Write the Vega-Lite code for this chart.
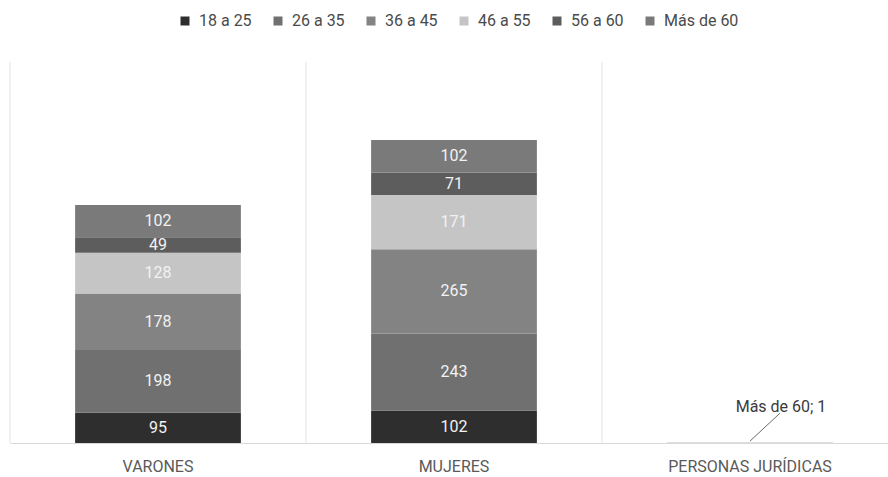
{
  "$schema": "https://vega.github.io/schema/vega-lite/v6.json",
  "width": 878,
  "height": 381,
  "autosize": {"type": "none"},
  "padding": {"left": 10, "right": 0, "top": 62, "bottom": 34},
  "background": "white",
  "config": {"view": {"stroke": null}, "font": "Roboto"},
  "data": {
    "values": [
      {"cat": "VARONES", "grupo": "18 a 25", "value": 95, "ord": 1},
      {"cat": "VARONES", "grupo": "26 a 35", "value": 198, "ord": 2},
      {"cat": "VARONES", "grupo": "36 a 45", "value": 178, "ord": 3},
      {"cat": "VARONES", "grupo": "46 a 55", "value": 128, "ord": 4},
      {"cat": "VARONES", "grupo": "56 a 60", "value": 49, "ord": 5},
      {"cat": "VARONES", "grupo": "Más de 60", "value": 102, "ord": 6},
      {"cat": "MUJERES", "grupo": "18 a 25", "value": 102, "ord": 1},
      {"cat": "MUJERES", "grupo": "26 a 35", "value": 243, "ord": 2},
      {"cat": "MUJERES", "grupo": "36 a 45", "value": 265, "ord": 3},
      {"cat": "MUJERES", "grupo": "46 a 55", "value": 171, "ord": 4},
      {"cat": "MUJERES", "grupo": "56 a 60", "value": 71, "ord": 5},
      {"cat": "MUJERES", "grupo": "Más de 60", "value": 102, "ord": 6},
      {"cat": "PERSONAS JURÍDICAS", "grupo": "Más de 60", "value": 1, "ord": 6}
    ]
  },
  "layer": [
    {
      "data": {"values": [{"cat": "VARONES"}, {"cat": "MUJERES"}, {"cat": "PERSONAS JURÍDICAS"}]},
      "mark": {"type": "rule", "color": "#e3e3e3", "strokeWidth": 1},
      "encoding": {
        "x": {"field": "cat", "type": "nominal", "bandPosition": 0, "sort": ["VARONES", "MUJERES", "PERSONAS JURÍDICAS"]}
      }
    },
    {
      "mark": {"type": "bar", "width": {"band": 0.56}},
      "encoding": {
        "x": {
          "field": "cat", "type": "nominal",
          "sort": ["VARONES", "MUJERES", "PERSONAS JURÍDICAS"],
          "scale": {"range": [0, 888], "paddingInner": 0, "paddingOuter": 0},
          "axis": {"title": null, "labelAngle": 0, "labelAlign": "center", "labelBaseline": "middle", "ticks": false, "grid": false, "domainColor": "#d9d9d9", "labelFontSize": 16, "labelColor": "#5a5a5a", "labelPadding": 23}
        },
        "y": {"field": "value", "type": "quantitative", "stack": "zero", "scale": {"domain": [0, 1200]}, "axis": null},
        "color": {
          "field": "grupo", "type": "nominal",
          "scale": {
            "domain": ["18 a 25", "26 a 35", "36 a 45", "46 a 55", "56 a 60", "Más de 60"],
            "range": ["#2e2e2e", "#707070", "#838383", "#c5c5c5", "#5d5d5d", "#7a7a7a"]
          },
          "legend": {
            "title": null, "orient": "none", "direction": "horizontal",
            "legendX": 167, "legendY": -49,
            "symbolType": "square", "symbolSize": 81, "symbolStrokeWidth": 0,
            "labelFontSize": 16, "labelColor": "#4a4a4a", "labelOffset": 6,
            "columnPadding": 18
          }
        },
        "order": {"field": "ord", "type": "quantitative"}
      }
    },
    {
      "transform": [{"filter": "datum.value > 5"}],
      "mark": {"type": "text", "color": "#f2f2f2", "fontSize": 16},
      "encoding": {
        "x": {"field": "cat", "type": "nominal", "sort": ["VARONES", "MUJERES", "PERSONAS JURÍDICAS"]},
        "y": {"field": "value", "type": "quantitative", "stack": "zero", "bandPosition": 0.5},
        "detail": {"field": "grupo"},
        "order": {"field": "ord", "type": "quantitative"},
        "text": {"field": "value", "type": "quantitative"}
      }
    },
    {
      "transform": [{"filter": "datum.cat == 'PERSONAS JURÍDICAS'"}],
      "mark": {"type": "rule", "color": "#6a6a6a", "strokeWidth": 1, "x2Offset": 30},
      "encoding": {
        "x": {"field": "cat", "type": "nominal", "sort": ["VARONES", "MUJERES", "PERSONAS JURÍDICAS"]},
        "x2": {"field": "cat"},
        "y": {"datum": 6, "type": "quantitative"},
        "y2": {"datum": 94}
      }
    },
    {
      "transform": [{"filter": "datum.cat == 'PERSONAS JURÍDICAS'"}],
      "mark": {"type": "text", "color": "#3a3a3a", "fontSize": 16, "dx": 31},
      "encoding": {
        "x": {"field": "cat", "type": "nominal", "sort": ["VARONES", "MUJERES", "PERSONAS JURÍDICAS"]},
        "y": {"datum": 113, "type": "quantitative"},
        "text": {"value": "Más de 60; 1"}
      }
    }
  ]
}
